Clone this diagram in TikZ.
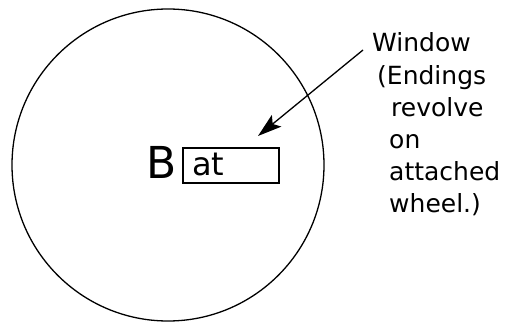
\documentclass[tikz,border=0pt]{standalone}
\usepackage{fontspec}
\setmainfont{DejaVu Sans}
\usetikzlibrary{arrows.meta}
\begin{document}
\begin{tikzpicture}[x=1pt,y=-1pt,
  ink/.style={line width=1.3pt,black},
  lbl/.style={anchor=base west,inner sep=0pt,font=\fontsize{25}{25}\selectfont}]
\useasboundingbox (0,0) rectangle (531,324);
\node[ink,draw,circle,minimum size=312pt,inner sep=0pt] (wheel) at (168,165) {};
\node[anchor=base west,inner sep=0pt,font=\fontsize{44}{44}\selectfont] (B) at (146,178) {B};
\node[ink,draw,rectangle,minimum width=96pt,minimum height=35pt,inner sep=0pt] (win) at (231,165.5) {};
\node[anchor=base west,inner sep=0pt,font=\fontsize{32}{32}\selectfont] (at) at (192,175) {at};
\node[lbl] (l1) at (372,52) {Window};
\node[lbl] (l2) at (377,84) {(Endings};
\node[lbl] (l3) at (391,116) {revolve};
\node[lbl] (l4) at (389,148) {on};
\node[lbl] (l5) at (389,180) {attached};
\node[lbl] (l6) at (389,212) {wheel.)};
\coordinate (tip) at (258,136);
\draw[ink,-{Stealth[length=24pt,width=15pt,inset=5pt]}] (l1.base west) ++(-9,-2) coordinate (start) -- (tip);
\end{tikzpicture}
\end{document}
